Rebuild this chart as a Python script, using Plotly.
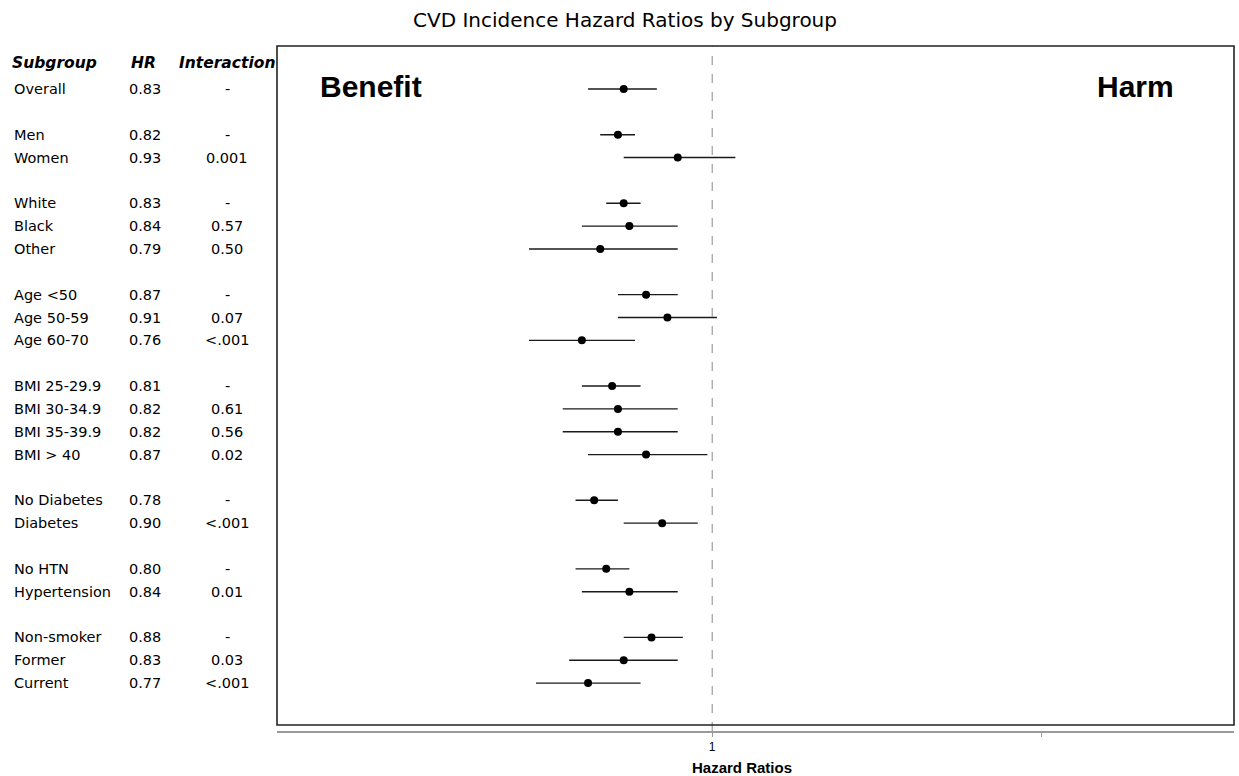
import math
import plotly.graph_objects as go

# ---------------- data ----------------
subgroups = ["Overall", "Men", "Women", "White", "Black", "Other",
             "Age <50", "Age 50-59", "Age 60-70",
             "BMI 25-29.9", "BMI 30-34.9", "BMI 35-39.9", "BMI > 40",
             "No Diabetes", "Diabetes", "No HTN", "Hypertension",
             "Non-smoker", "Former", "Current"]
groups = ["All", "Sex", "Sex", "Race", "Race", "Race",
          "Age", "Age", "Age",
          "BMI", "BMI", "BMI", "BMI",
          "Diabetes", "Diabetes", "HTN", "HTN",
          "Smoking", "Smoking", "Smoking"]
hr = [0.83, 0.82, 0.93, 0.83, 0.84, 0.79, 0.87, 0.91, 0.76,
      0.81, 0.82, 0.82, 0.87, 0.78, 0.90, 0.80, 0.84, 0.88, 0.83, 0.77]
ci_low = [0.77, 0.79, 0.83, 0.80, 0.76, 0.68, 0.82, 0.82, 0.68,
          0.76, 0.73, 0.73, 0.77, 0.75, 0.83, 0.75, 0.76, 0.83, 0.74, 0.69]
ci_high = [0.89, 0.85, 1.05, 0.86, 0.93, 0.93, 0.93, 1.01, 0.85,
           0.86, 0.93, 0.93, 0.99, 0.82, 0.97, 0.84, 0.93, 0.94, 0.93, 0.86]
interaction = ["-", "-", "0.001", "-", "0.57", "0.50", "-", "0.07", "<.001",
               "-", "0.61", "0.56", "0.02", "-", "<.001", "-", "0.01",
               "-", "0.03", "<.001"]
headers = ["Subgroup", "HR", "Interaction"]
x_ticks = [1, 2]
x_tick_labels = ["1", ""]

# ---------------- row positions (blank row between groups) ----------------
rows = []
r = 0
for i, g in enumerate(groups):
    if i > 0 and g != groups[i - 1]:
        r += 1
    rows.append(r)
    r += 1

# ---------------- layout geometry ----------------
OFF = 0                       # page body margin removed by post_script
W, H = 1239 - OFF, 776 - OFF
# targets in screenshot pixels
L_PX, R_PX, T_PX, B_PX = 277, 1234, 46, 731
ML, MR, MT, MB = L_PX - OFF, W - (R_PX - OFF), T_PX - OFF, H - (B_PX - OFF)
PW = W - ML - MR
PH = H - MT - MB
ROW0_PX, ROW_STEP = 89, 22.85


def px_to_row(py):
    return (py - ROW0_PX) / ROW_STEP


def xp(px):
    return (px - L_PX) / PW


def yp(py):
    return (B_PX - py) / PH


fig = go.Figure()

# CI lines
lx, ly = [], []
for lo, hi, rr in zip(ci_low, ci_high, rows):
    lx += [lo, hi, None]
    ly += [rr, rr, None]
fig.add_trace(go.Scatter(x=lx, y=ly, mode="lines",
                         line=dict(color="#1a1a1a", width=1.4),
                         hoverinfo="skip", showlegend=False))
# point estimates
fig.add_trace(go.Scatter(x=hr, y=rows, mode="markers",
                         marker=dict(color="black", size=8),
                         showlegend=False))

# reference line at HR = 1
fig.add_shape(type="line", xref="x", yref="paper", x0=1, x1=1, y0=0, y1=1,
              line=dict(color="#888888", width=1, dash="dash"))
# plot frame
fig.add_shape(type="rect", xref="paper", yref="paper", x0=0, x1=1,
              y0=yp(725), y1=1, line=dict(color="#222222", width=1.6),
              fillcolor="rgba(0,0,0,0)")

ann = []
body_font = dict(family="DejaVu Sans", size=14.5, color="black")
head_font = dict(family="DejaVu Sans", size=15.5, color="black")
for name, h, inter, rr in zip(subgroups, hr, interaction, rows):
    ann.append(dict(x=xp(12), y=rr, xref="paper", yref="y", text=name,
                    showarrow=False, xanchor="left", yanchor="middle", font=body_font))
    ann.append(dict(x=xp(127), y=rr, xref="paper", yref="y", text=f"{h:.2f}",
                    showarrow=False, xanchor="left", yanchor="middle", font=body_font))
    ann.append(dict(x=xp(227), y=rr, xref="paper", yref="y", text=inter,
                    showarrow=False, xanchor="center", yanchor="middle", font=body_font))

head_row = px_to_row(63)
ann.append(dict(x=xp(10), y=head_row, xref="paper", yref="y",
                text=f"<b><i>{headers[0]}</i></b>", showarrow=False,
                xanchor="left", yanchor="middle", font=head_font))
ann.append(dict(x=xp(143), y=head_row, xref="paper", yref="y",
                text=f"<b><i>{headers[1]}</i></b>", showarrow=False,
                xanchor="center", yanchor="middle", font=head_font))
ann.append(dict(x=xp(227), y=head_row, xref="paper", yref="y",
                text=f"<b><i>{headers[2]}</i></b>", showarrow=False,
                xanchor="center", yanchor="middle", font=head_font))

# Benefit / Harm
ann.append(dict(x=xp(318), y=yp(87), xref="paper", yref="paper",
                text="<b>Benefit</b>", showarrow=False, xanchor="left", yanchor="middle",
                font=dict(family="Liberation Sans, Arial", size=30, color="black")))
ann.append(dict(x=xp(1176), y=yp(87), xref="paper", yref="paper",
                text="<b>Harm</b>", showarrow=False, xanchor="right", yanchor="middle",
                font=dict(family="Liberation Sans, Arial", size=30, color="black")))
# x-axis title
ann.append(dict(x=xp(742), y=yp(767), xref="paper", yref="paper",
                text="<b>Hazard Ratios</b>", showarrow=False, xanchor="center", yanchor="middle",
                font=dict(family="Liberation Sans, Arial", size=15, color="black")))

fig.update_layout(
    width=W, height=H,
    margin=dict(l=ML, r=MR, t=MT, b=MB, pad=0),
    paper_bgcolor="white", plot_bgcolor="white",
    title=dict(text="CVD Incidence Hazard Ratios by Subgroup",
               x=(625 - OFF) / W, xref="container", xanchor="center",
               y=1 - (20 - OFF) / H, yref="container", yanchor="middle",
               font=dict(family="DejaVu Sans", size=20, color="black")),
    xaxis=dict(type="log", range=[math.log10(0.4), math.log10(3.0)],
               showgrid=False, zeroline=False,
               showline=True, linecolor="#9a9a9a", linewidth=2,
               ticks="outside", ticklen=4, tickcolor="#9a9a9a", tickwidth=1,
               tickvals=x_ticks, ticktext=x_tick_labels,
               tickfont=dict(family="Liberation Sans, Arial", size=12, color="#000000")),
    yaxis=dict(range=[px_to_row(B_PX), px_to_row(T_PX)],
               showgrid=False, zeroline=False, showline=False,
               showticklabels=False, ticks=""),
    annotations=ann,
    showlegend=False,
)

fig.write_html("out.html",
               config={"displayModeBar": False},
               post_script="document.body.style.margin='0';"
                           "document.body.style.overflow='hidden';")
